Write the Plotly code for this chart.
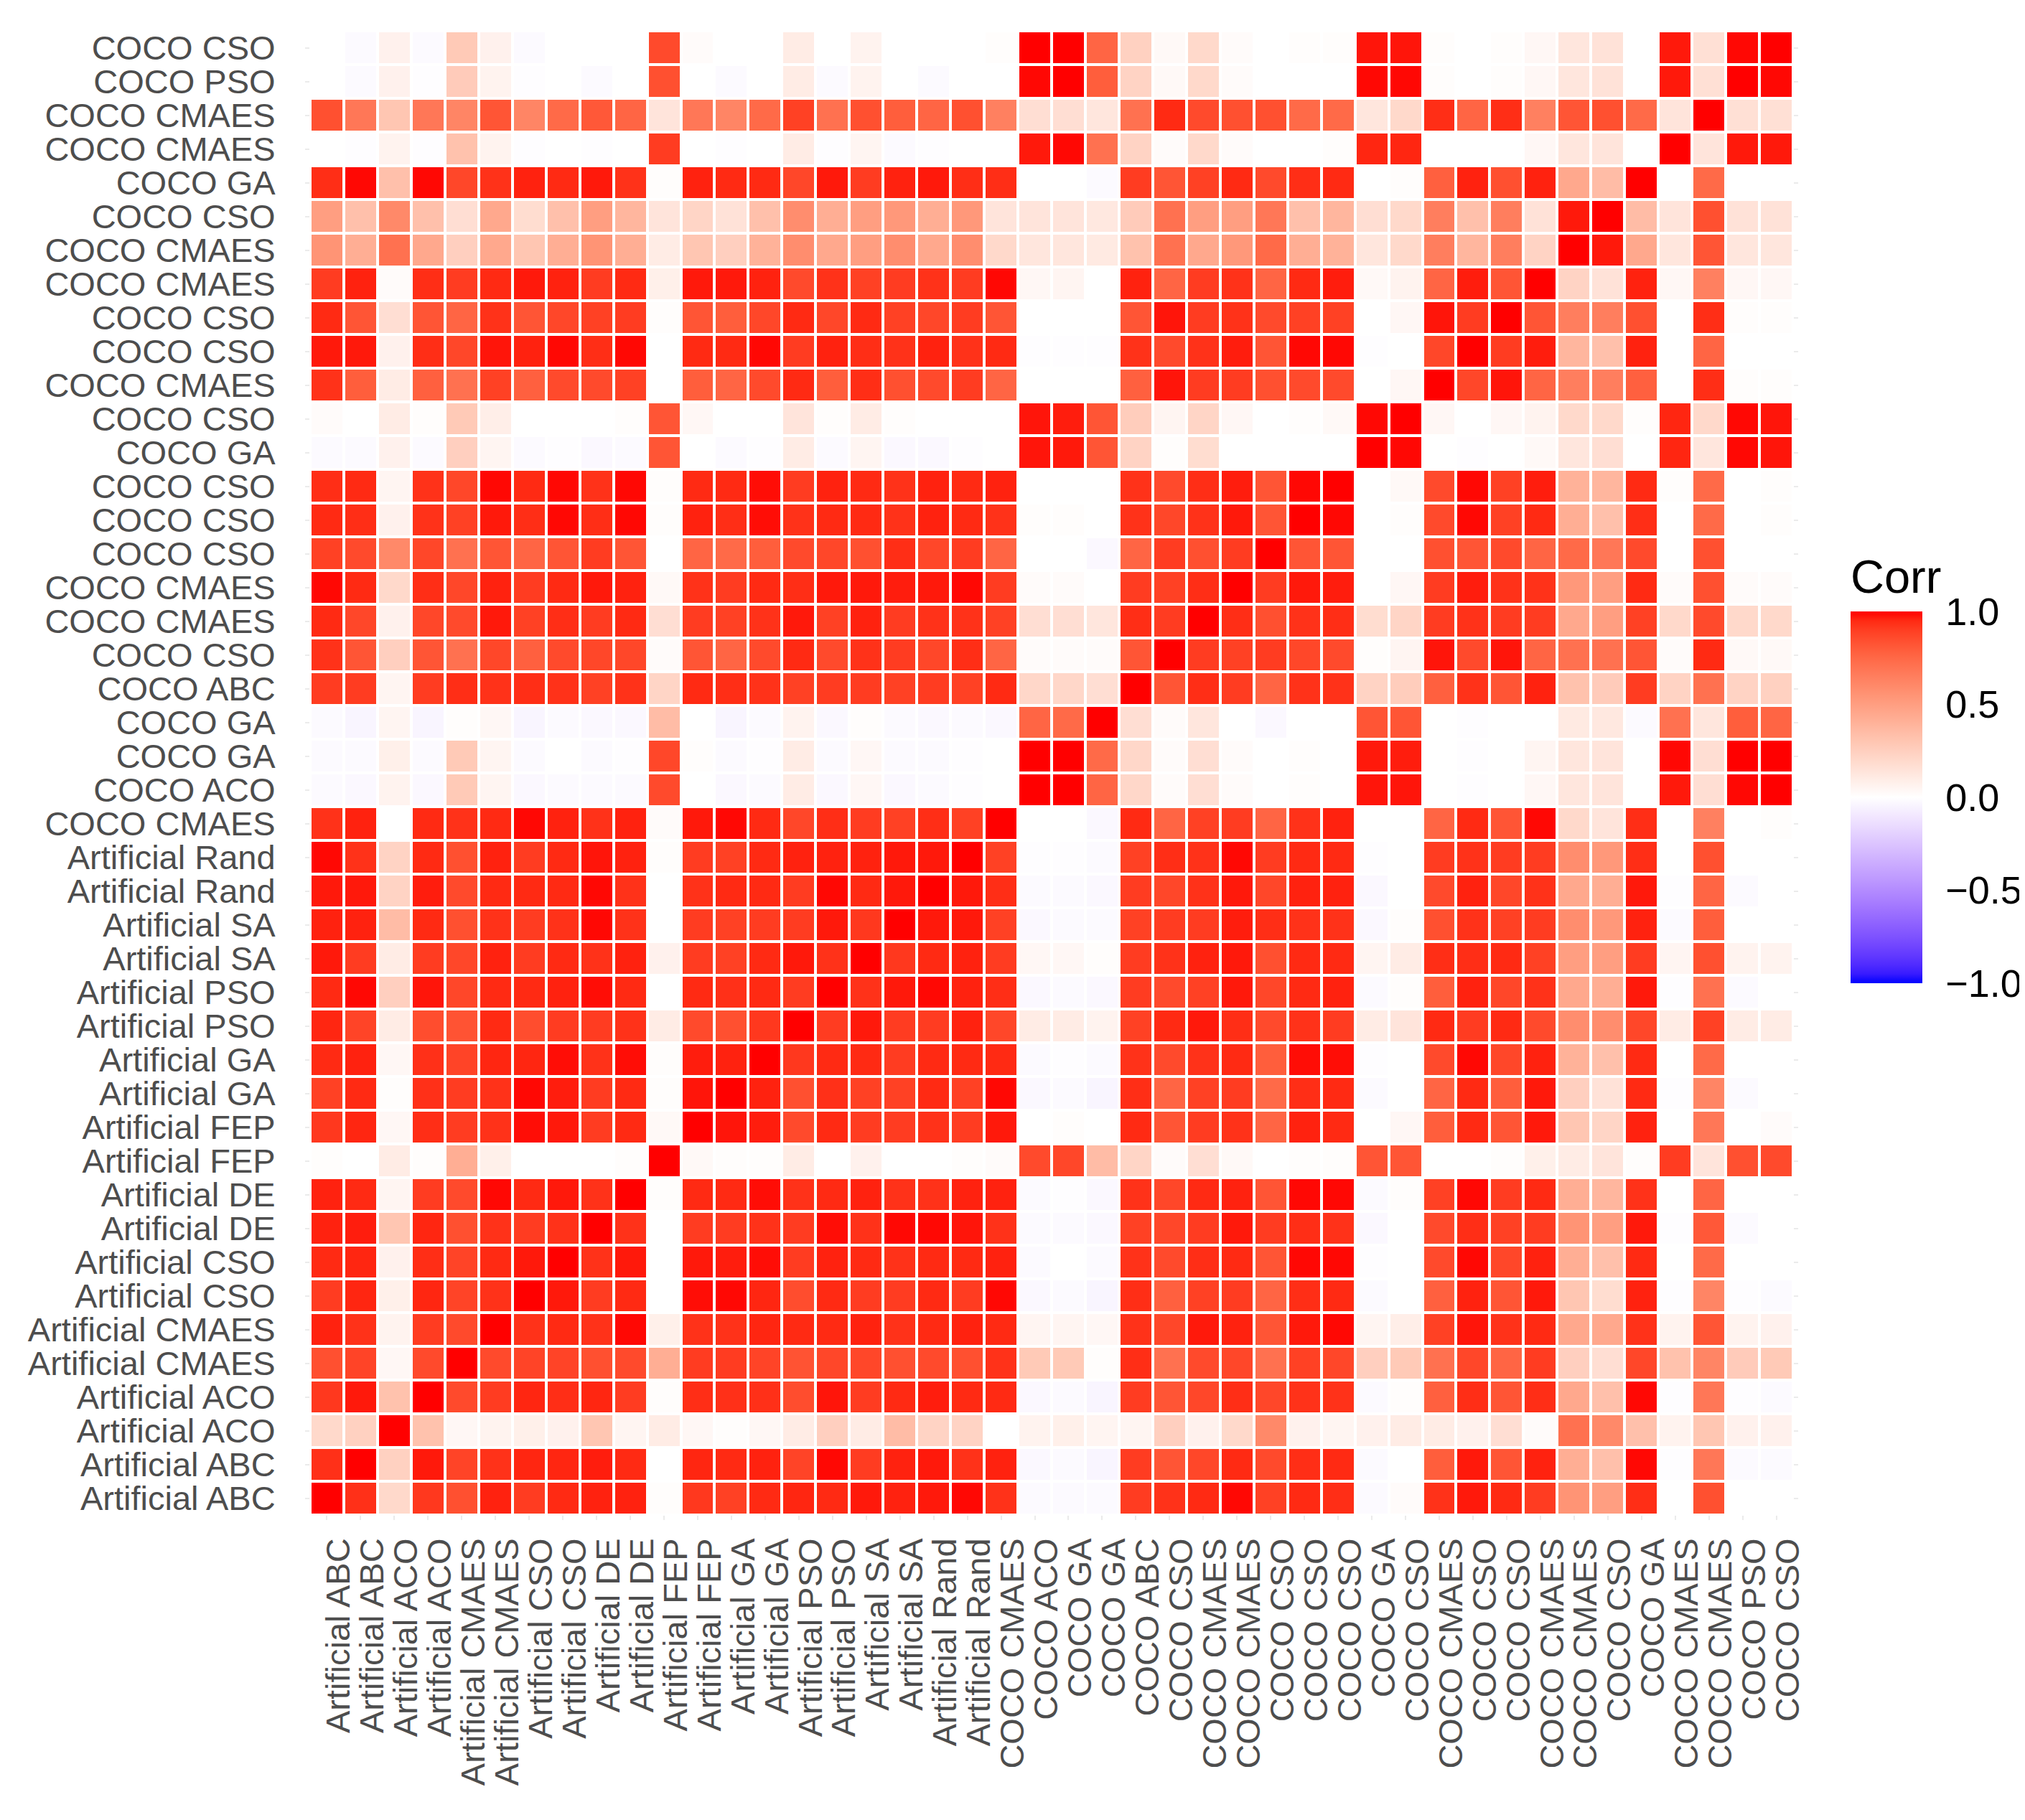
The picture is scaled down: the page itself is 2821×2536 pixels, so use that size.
import numpy as np
import plotly.graph_objects as go

# variable names, bottom-to-top on y and left-to-right on x
labels = [
    "Artificial ABC", "Artificial ABC", "Artificial ACO", "Artificial ACO",
    "Artificial CMAES", "Artificial CMAES", "Artificial CSO", "Artificial CSO",
    "Artificial DE", "Artificial DE", "Artificial FEP", "Artificial FEP",
    "Artificial GA", "Artificial GA", "Artificial PSO", "Artificial PSO",
    "Artificial SA", "Artificial SA", "Artificial Rand", "Artificial Rand",
    "COCO CMAES", "COCO ACO", "COCO GA", "COCO GA", "COCO ABC", "COCO CSO",
    "COCO CMAES", "COCO CMAES", "COCO CSO", "COCO CSO", "COCO CSO", "COCO GA",
    "COCO CSO", "COCO CMAES", "COCO CSO", "COCO CSO", "COCO CMAES", "COCO CMAES",
    "COCO CSO", "COCO GA", "COCO CMAES", "COCO CMAES", "COCO PSO", "COCO CSO",
]

# lower triangle of the correlation matrix, row i holds corr(i, 0..i-1)
artificial_rows = [
    [],
    [0.935],
    [0.2, 0.24],
    [0.915, 0.97, 0.32],
    [0.84, 0.88, 0.04, 0.86],
    [0.96, 0.93, 0.06, 0.905, 0.86],
    [0.905, 0.955, 0.08, 0.955, 0.88, 0.93],
    [0.95, 0.955, 0.07, 0.94, 0.88, 0.95, 0.97],
    [0.96, 0.965, 0.3, 0.955, 0.84, 0.93, 0.905, 0.93],
    [0.96, 0.95, 0.05, 0.905, 0.86, 0.99, 0.95, 0.97, 0.93],
    [0.01, 0.0, 0.1, 0.01, 0.42, 0.08, 0.0, 0.0, 0.0, 0.01],
    [0.915, 0.955, 0.04, 0.94, 0.905, 0.93, 0.985, 0.97, 0.905, 0.95, 0.03],
    [0.89, 0.95, 0.01, 0.935, 0.905, 0.93, 0.99, 0.965, 0.905, 0.95, 0.01, 0.975],
    [0.95, 0.96, 0.04, 0.935, 0.88, 0.955, 0.955, 0.985, 0.93, 0.985, 0.01, 0.965, 0.96],
    [0.955, 0.88, 0.1, 0.85, 0.83, 0.95, 0.85, 0.905, 0.905, 0.93, 0.1, 0.86, 0.84, 0.915],
    [0.95, 0.99, 0.25, 0.975, 0.87, 0.95, 0.95, 0.96, 0.985, 0.95, 0.0, 0.95, 0.935, 0.95, 0.905],
    [0.97, 0.905, 0.1, 0.905, 0.87, 0.96, 0.905, 0.95, 0.93, 0.96, 0.07, 0.905, 0.89, 0.95, 0.97, 0.93],
    [0.96, 0.96, 0.35, 0.95, 0.84, 0.93, 0.905, 0.93, 0.99, 0.93, 0.0, 0.905, 0.89, 0.905, 0.905, 0.97, 0.915],
    [0.97, 0.97, 0.23, 0.965, 0.86, 0.95, 0.95, 0.95, 0.99, 0.93, 0.0, 0.93, 0.95, 0.95, 0.905, 0.99, 0.95, 0.97],
    [0.99, 0.93, 0.23, 0.95, 0.84, 0.96, 0.905, 0.95, 0.975, 0.96, 0.01, 0.905, 0.89, 0.95, 0.96, 0.96, 0.96, 0.97, 0.97],
]

coco_rows = [
    [0.93, 0.96, 0.0, 0.95, 0.93, 0.95, 0.99, 0.96, 0.93, 0.96, 0.02, 0.97, 0.99, 0.95, 0.87, 0.94, 0.905, 0.89, 0.94, 0.89],
    [-0.02, -0.03, 0.06, -0.03, 0.28, 0.05, -0.03, -0.02, -0.02, -0.02, 0.86, 0.0, -0.03, -0.02, 0.1, -0.03, 0.04, -0.03, -0.02, -0.01, 0.0],
    [-0.02, -0.02, 0.08, -0.02, 0.28, 0.05, -0.02, 0.0, -0.02, -0.01, 0.87, 0.01, -0.02, -0.01, 0.1, -0.02, 0.04, -0.02, -0.02, -0.01, 0.0, 1.0],
    [-0.02, -0.04, 0.05, -0.04, 0.01, 0.04, -0.04, -0.02, -0.03, -0.03, 0.35, 0.0, -0.04, -0.02, 0.06, -0.03, 0.01, -0.02, -0.03, -0.02, -0.03, 0.76, 0.74],
    [0.905, 0.905, 0.05, 0.905, 0.94, 0.93, 0.94, 0.93, 0.89, 0.93, 0.22, 0.95, 0.94, 0.93, 0.89, 0.905, 0.905, 0.89, 0.905, 0.89, 0.95, 0.21, 0.21, 0.17],
    [0.93, 0.82, 0.25, 0.82, 0.71, 0.87, 0.78, 0.86, 0.87, 0.87, 0.02, 0.82, 0.76, 0.86, 0.95, 0.86, 0.93, 0.905, 0.87, 0.94, 0.76, 0.02, 0.02, 0.02, 0.82],
    [0.95, 0.87, 0.07, 0.87, 0.86, 0.97, 0.89, 0.94, 0.905, 0.95, 0.17, 0.905, 0.89, 0.93, 0.97, 0.89, 0.96, 0.905, 0.93, 0.93, 0.89, 0.17, 0.17, 0.13, 0.94, 0.905],
    [0.99, 0.95, 0.2, 0.94, 0.87, 0.96, 0.905, 0.95, 0.97, 0.96, 0.03, 0.93, 0.905, 0.95, 0.94, 0.97, 0.97, 0.965, 0.97, 0.99, 0.905, 0.02, 0.02, 0.0, 0.905, 0.89, 0.94],
    [0.89, 0.86, 0.6, 0.87, 0.71, 0.82, 0.76, 0.82, 0.905, 0.82, 0.0, 0.76, 0.74, 0.79, 0.86, 0.87, 0.84, 0.94, 0.87, 0.905, 0.76, 0.0, 0.0, -0.03, 0.76, 0.905, 0.84, 0.905],
    [0.95, 0.94, 0.07, 0.93, 0.89, 0.97, 0.94, 0.99, 0.94, 0.99, 0.01, 0.96, 0.94, 0.985, 0.93, 0.95, 0.95, 0.93, 0.96, 0.95, 0.93, 0.01, 0.01, 0.0, 0.93, 0.87, 0.93, 0.97, 0.82],
    [0.94, 0.95, 0.05, 0.93, 0.87, 0.99, 0.95, 0.99, 0.93, 0.99, 0.01, 0.95, 0.95, 0.985, 0.905, 0.96, 0.95, 0.93, 0.96, 0.95, 0.96, 0.0, 0.0, 0.0, 0.93, 0.86, 0.94, 0.965, 0.82, 0.99],
    [-0.02, -0.02, 0.07, -0.02, 0.25, 0.05, -0.02, -0.01, -0.03, -0.02, 0.82, 0.0, -0.02, -0.01, 0.1, -0.02, 0.05, -0.03, -0.03, -0.01, 0.0, 0.975, 0.97, 0.82, 0.23, 0.01, 0.18, 0.0, 0.0, 0.0, 0.0],
    [0.02, 0.0, 0.1, 0.01, 0.28, 0.09, 0.0, 0.0, 0.0, 0.01, 0.82, 0.04, 0.0, 0.0, 0.14, 0.01, 0.1, 0.01, 0.0, 0.0, 0.0, 0.975, 0.965, 0.82, 0.26, 0.05, 0.22, 0.04, 0.0, 0.01, 0.03, 0.99],
    [0.93, 0.79, 0.1, 0.78, 0.71, 0.89, 0.78, 0.86, 0.86, 0.89, 0.0, 0.79, 0.76, 0.86, 0.95, 0.79, 0.94, 0.84, 0.86, 0.905, 0.76, 0.0, 0.0, 0.0, 0.78, 0.975, 0.905, 0.905, 0.84, 0.86, 0.86, 0.0, 0.04],
    [0.97, 0.97, 0.07, 0.94, 0.87, 0.975, 0.96, 0.99, 0.94, 0.99, 0.0, 0.95, 0.95, 0.99, 0.905, 0.96, 0.94, 0.93, 0.96, 0.93, 0.95, -0.01, -0.01, -0.01, 0.93, 0.86, 0.93, 0.965, 0.82, 0.99, 0.99, -0.01, 0.0, 0.87],
    [0.95, 0.82, 0.17, 0.82, 0.76, 0.93, 0.82, 0.87, 0.89, 0.905, 0.01, 0.82, 0.79, 0.87, 0.95, 0.87, 0.95, 0.89, 0.87, 0.905, 0.82, 0.0, 0.0, 0.0, 0.82, 0.975, 0.905, 0.93, 0.86, 0.89, 0.89, 0.0, 0.04, 0.975, 0.905],
    [0.905, 0.96, 0.02, 0.94, 0.905, 0.95, 0.97, 0.96, 0.905, 0.95, 0.08, 0.97, 0.97, 0.96, 0.86, 0.93, 0.89, 0.905, 0.93, 0.905, 0.99, 0.04, 0.05, 0.0, 0.96, 0.76, 0.905, 0.93, 0.76, 0.95, 0.965, 0.03, 0.06, 0.76, 0.965, 0.82],
    [0.55, 0.42, 0.71, 0.45, 0.25, 0.45, 0.3, 0.42, 0.55, 0.42, 0.1, 0.3, 0.25, 0.4, 0.58, 0.45, 0.5, 0.58, 0.45, 0.58, 0.2, 0.13, 0.13, 0.11, 0.32, 0.71, 0.45, 0.53, 0.74, 0.42, 0.4, 0.13, 0.2, 0.65, 0.38, 0.65, 0.23],
    [0.5, 0.33, 0.6, 0.33, 0.17, 0.45, 0.18, 0.33, 0.5, 0.38, 0.14, 0.22, 0.15, 0.33, 0.58, 0.42, 0.5, 0.53, 0.42, 0.53, 0.14, 0.14, 0.14, 0.12, 0.27, 0.71, 0.5, 0.5, 0.68, 0.33, 0.38, 0.17, 0.2, 0.65, 0.33, 0.65, 0.15, 0.97],
    [0.94, 0.99, 0.33, 0.99, 0.87, 0.93, 0.96, 0.95, 0.97, 0.93, 0.01, 0.96, 0.95, 0.95, 0.87, 0.97, 0.905, 0.96, 0.97, 0.94, 0.94, 0.0, 0.0, -0.02, 0.905, 0.82, 0.89, 0.95, 0.86, 0.94, 0.95, 0.0, 0.01, 0.78, 0.96, 0.84, 0.96, 0.45, 0.35],
    [0.0, -0.01, 0.06, -0.01, 0.32, 0.06, -0.01, 0.0, -0.01, 0.0, 0.905, 0.0, -0.01, 0.0, 0.1, -0.01, 0.05, -0.02, -0.01, 0.0, 0.0, 0.97, 0.99, 0.71, 0.23, 0.02, 0.2, 0.02, 0.0, 0.0, 0.01, 0.955, 0.955, 0.0, 0.0, 0.0, 0.04, 0.13, 0.14, 0.0],
    [0.84, 0.68, 0.3, 0.68, 0.62, 0.82, 0.62, 0.74, 0.81, 0.76, 0.14, 0.68, 0.62, 0.74, 0.89, 0.71, 0.84, 0.79, 0.76, 0.84, 0.64, 0.17, 0.17, 0.13, 0.71, 0.95, 0.86, 0.84, 0.84, 0.74, 0.74, 0.13, 0.2, 0.94, 0.76, 0.94, 0.64, 0.82, 0.84, 0.74, 0.14],
    [0.0, -0.02, 0.07, -0.01, 0.27, 0.06, -0.01, 0.0, -0.02, 0.0, 0.84, 0.0, -0.02, 0.0, 0.1, -0.02, 0.06, 0.0, -0.02, 0.0, 0.0, 0.99, 1.0, 0.79, 0.23, 0.03, 0.2, 0.02, 0.0, 0.0, 0.0, 0.99, 0.99, 0.01, 0.0, 0.01, 0.04, 0.13, 0.15, 0.0, 0.97, 0.16],
    [0.0, -0.02, 0.07, -0.02, 0.28, 0.07, -0.02, 0.0, 0.0, 0.0, 0.86, 0.02, 0.0, 0.0, 0.1, 0.0, 0.06, 0.0, 0.0, 0.0, 0.01, 1.0, 1.0, 0.76, 0.24, 0.03, 0.2, 0.02, 0.0, 0.01, 0.01, 0.975, 0.975, 0.01, 0.0, 0.01, 0.04, 0.13, 0.15, 0.0, 0.97, 0.16, 0.99],
]

legend_ticks = [-1.0, -0.5, 0.0, 0.5, 1.0]
legend_text = ["\u22121.0", "\u22120.5", "0.0", "0.5", "1.0"]

# full symmetric matrix
n = len(labels)
corr = np.eye(n)
for i, row in enumerate(artificial_rows + coco_rows):
    for j, v in enumerate(row):
        corr[i, j] = v
        corr[j, i] = v


# blue - white - red gradient interpolated in Lab, like ggplot's gradient2
def lab_to_rgb(L, a, b):
    fy = (L + 16) / 116
    fx = fy + a / 500
    fz = fy - b / 200

    def finv(t):
        return t ** 3 if t ** 3 > 0.008856 else (t - 16 / 116) / 7.787

    X, Y, Z = 0.95047 * finv(fx), finv(fy), 1.08883 * finv(fz)
    lin = [3.2406 * X - 1.5372 * Y - 0.4986 * Z,
           -0.9689 * X + 1.8758 * Y + 0.0415 * Z,
           0.0557 * X - 0.2040 * Y + 1.0570 * Z]
    out = []
    for c in lin:
        c = min(max(c, 0.0), 1.0)
        c = 12.92 * c if c <= 0.0031308 else 1.055 * c ** (1 / 2.4) - 0.055
        out.append(int(round(255 * c)))
    return "rgb(%d,%d,%d)" % tuple(out)


white = np.array([100.0, 0.0, 0.0])
red = np.array([53.24, 80.09, 67.20])
blue = np.array([32.30, 79.19, -107.86])
scale = []
for t in np.linspace(-1, 1, 41):
    end = red if t >= 0 else blue
    lab = white + abs(t) * (end - white)
    scale.append([(t + 1) / 2, lab_to_rgb(*lab)])

idx = list(range(n))
font = "Liberation Sans, Arial, sans-serif"

fig = go.Figure(go.Heatmap(
    z=corr, x=idx, y=idx, zmin=-1, zmax=1, colorscale=scale,
    xgap=4, ygap=4,
    colorbar=dict(
        title=dict(text="Corr", side="top", font=dict(size=65, color="black", family=font)),
        thickness=100, len=596, lenmode="pixels",
        x=1.0387, xanchor="left", y=0.5025, yanchor="middle",
        xpad=0, ypad=0, outlinewidth=0,
        tickmode="array", tickvals=legend_ticks, ticktext=legend_text,
        ticks="outside", ticklen=22, tickcolor="rgba(0,0,0,0)",
        tickfont=dict(size=54, color="black", family=font),
    ),
))

fig.update_layout(
    template="none",
    width=2821, height=2536, autosize=False,
    margin=dict(l=424, r=329, t=35, b=433),
    paper_bgcolor="white", plot_bgcolor="white",
    font=dict(family=font),
    xaxis=dict(
        range=[-0.5, n - 0.5], tickmode="array",
        tickvals=[i + 0.35 for i in idx], ticktext=labels, tickangle=-90,
        ticks="", showgrid=False, zeroline=False, showline=False,
        mirror="ticks",
        minor=dict(tickmode="array", tickvals=idx, ticks="outside", ticklen=6,
                   tickwidth=2, tickcolor="#EBEBEB", showgrid=False),
        tickfont=dict(size=47, color="#4D4D4D", family=font),
        ticklabelstandoff=22, automargin=False,
    ),
    yaxis=dict(
        range=[-0.5, n - 0.5], tickmode="array", tickvals=idx, ticktext=labels,
        ticks="outside", ticklen=6, tickwidth=2, tickcolor="#EBEBEB",
        mirror="ticks", showgrid=False, zeroline=False, showline=False,
        tickfont=dict(size=47, color="#4D4D4D", family=font),
        ticklabelstandoff=32, automargin=False,
    ),
)

fig.write_html("out.html")
